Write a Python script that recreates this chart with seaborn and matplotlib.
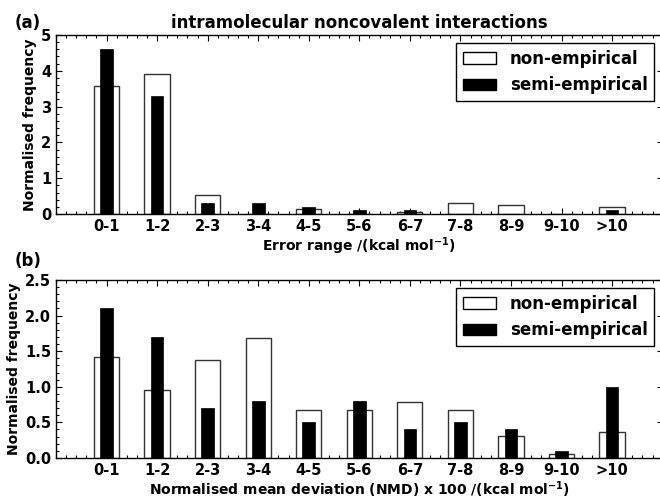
import matplotlib
matplotlib.use("Agg")
import matplotlib.pyplot as plt
from matplotlib.patches import Patch
from matplotlib.ticker import MultipleLocator, FormatStrFormatter
import seaborn as sns
import pandas as pd

sns.set_theme(style="ticks")
plt.rcParams["font.family"] = ["DejaVu Sans"]
plt.rcParams["font.weight"] = "bold"
plt.rcParams["axes.labelweight"] = "bold"
plt.rcParams["axes.titleweight"] = "bold"
plt.rcParams["text.color"] = "black"
plt.rcParams["axes.labelcolor"] = "black"
plt.rcParams["xtick.color"] = "black"
plt.rcParams["ytick.color"] = "black"
plt.rcParams["axes.edgecolor"] = "black"

categories = ["0-1", "1-2", "2-3", "3-4", "4-5", "5-6", "6-7", "7-8", "8-9", "9-10", ">10"]

# panel (a): error range
a_non = [3.58, 3.9, 0.52, 0.0, 0.15, 0.0, 0.05, 0.3, 0.25, 0.0, 0.2]
a_semi = [4.6, 3.3, 0.3, 0.3, 0.19, 0.1, 0.1, 0.0, 0.0, 0.0, 0.1]

# panel (b): normalised mean deviation
b_non = [1.42, 0.95, 1.37, 1.68, 0.68, 0.68, 0.79, 0.68, 0.31, 0.05, 0.37]
b_semi = [2.1, 1.7, 0.7, 0.8, 0.5, 0.8, 0.4, 0.5, 0.4, 0.1, 1.0]

fig = plt.figure(figsize=(6.6, 4.99), dpi=100)
ax1 = fig.add_axes([0.0848, 0.571, 0.9192, 0.359])
ax2 = fig.add_axes([0.0848, 0.0822, 0.9192, 0.3568])


def draw(ax, non, semi, ymax, ymajor, yminor, xlabel):
    df = pd.DataFrame({"cat": categories, "non": non, "semi": semi})
    sns.barplot(data=df, x="cat", y="non", order=categories, color="white",
                edgecolor="#333333", linewidth=1.0, width=0.5, saturation=1,
                ax=ax)
    sns.barplot(data=df, x="cat", y="semi", order=categories, color="black",
                edgecolor="black", linewidth=0.5, width=0.25, saturation=1,
                ax=ax)
    ax.set_xlim(-1, 11)
    ax.set_ylim(0, ymax)
    ax.yaxis.set_major_locator(MultipleLocator(ymajor))
    ax.yaxis.set_minor_locator(MultipleLocator(yminor))
    ax.xaxis.set_minor_locator(MultipleLocator(0.2))
    ax.tick_params(which="both", direction="in", top=True, right=True,
                   labelsize=10.5, width=0.8, color="black", labelcolor="black")
    ax.tick_params(which="major", length=4)
    ax.tick_params(which="minor", length=2)
    for lab in ax.get_xticklabels() + ax.get_yticklabels():
        lab.set_fontweight("bold")
    for sp in ax.spines.values():
        sp.set_visible(True)
        sp.set_color("black")
        sp.set_linewidth(1.0)
    ax.set_xlabel(xlabel, fontsize=10, fontweight="bold", labelpad=1, color="black")
    ax.set_ylabel("Normalised frequency", fontsize=10, fontweight="bold",
                  labelpad=3, color="black")
    handles = [Patch(facecolor="white", edgecolor="black", linewidth=1.0, label="non-empirical"),
               Patch(facecolor="black", edgecolor="black", label="semi-empirical")]
    leg = ax.legend(handles=handles, loc="upper right",
                    fancybox=False, framealpha=1, edgecolor="black",
                    prop={"weight": "bold", "size": 12})
    for t in leg.get_texts():
        t.set_color("black")
    leg.get_frame().set_linewidth(1.0)


draw(ax1, a_non, a_semi, 5, 1, 0.2, r"Error range /(kcal mol$^{-1}$)")
draw(ax2, b_non, b_semi, 2.5, 0.5, 0.1,
     r"Normalised mean deviation (NMD) x 100 /(kcal mol$^{-1}$)")
ax1.yaxis.set_major_formatter(FormatStrFormatter("%d"))
ax2.yaxis.set_major_formatter(FormatStrFormatter("%.1f"))

ax1.set_title("intramolecular noncovalent interactions", fontsize=12,
              fontweight="bold", pad=5, color="black")
fig.text(0.022, 0.953, "(a)", fontsize=12, fontweight="bold", va="center", color="black")
fig.text(0.022, 0.476, "(b)", fontsize=12, fontweight="bold", va="center", color="black")

fig.savefig("out.png", dpi=100)
